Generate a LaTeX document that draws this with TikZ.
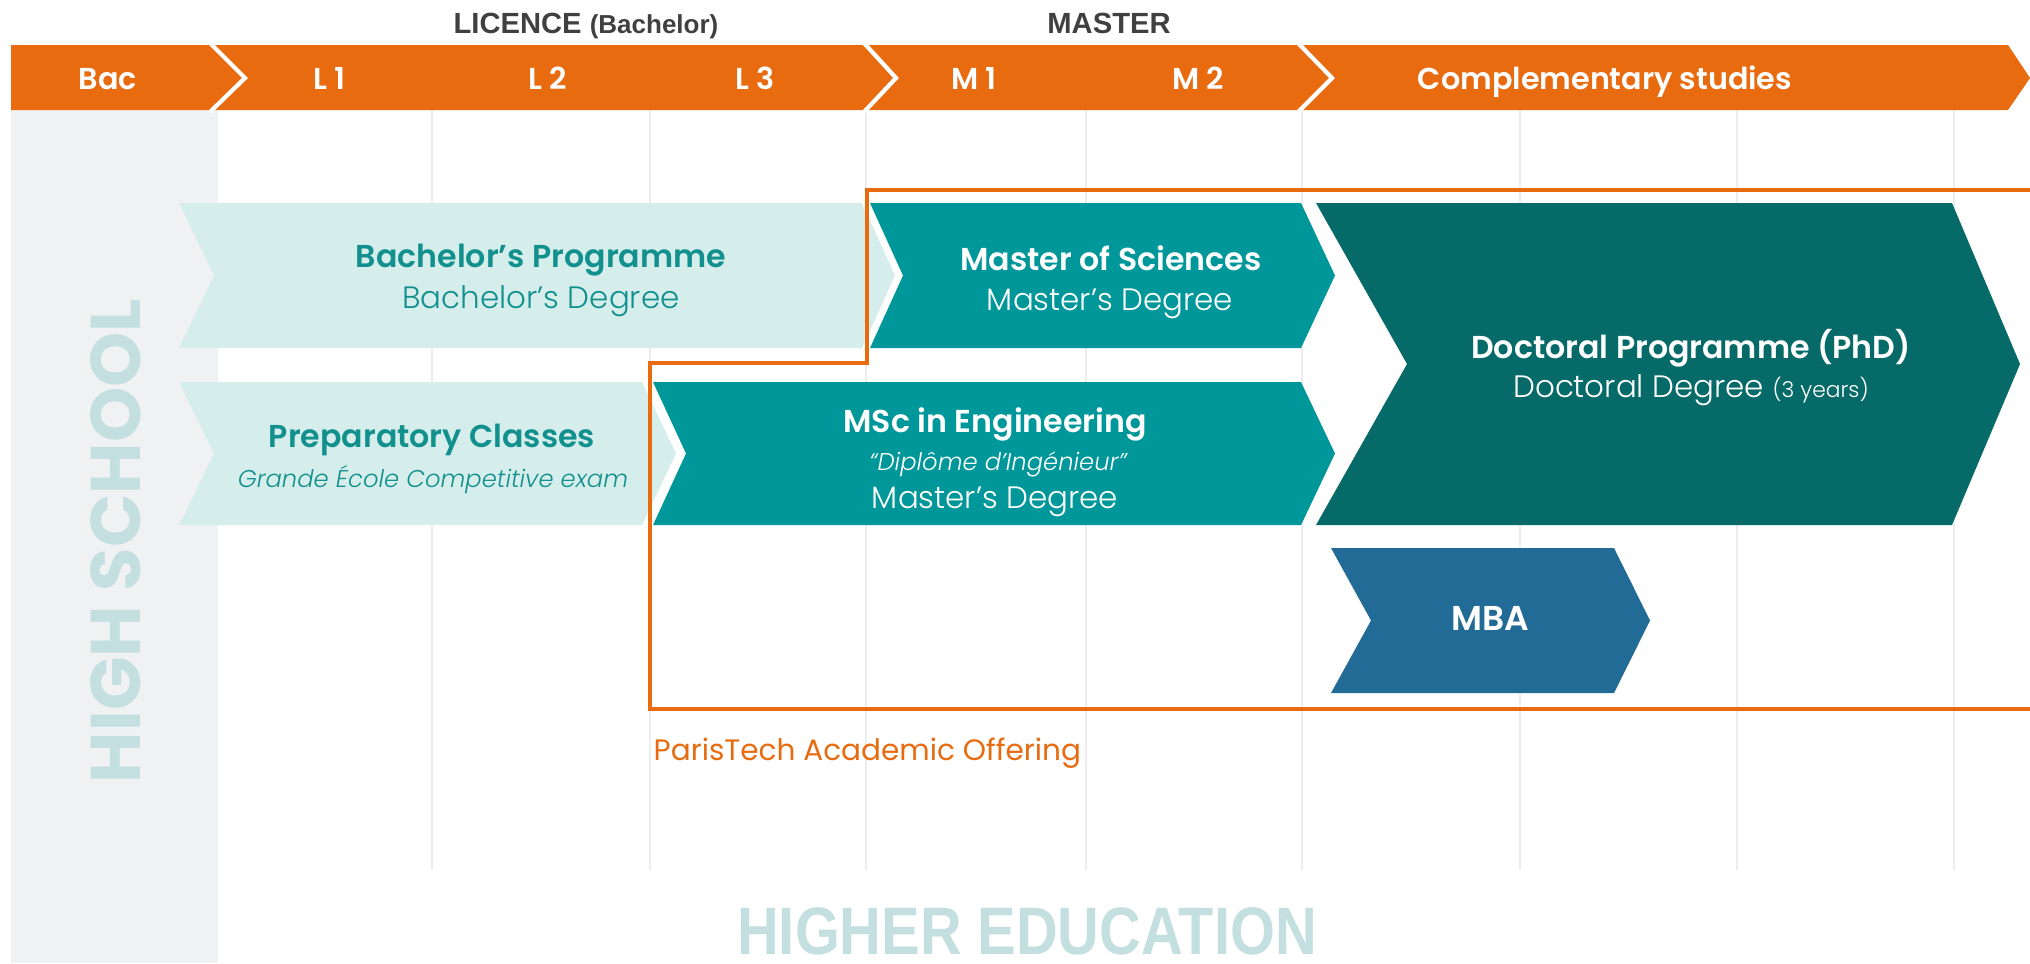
\documentclass[tikz,border=0pt]{standalone}
\usepackage{fontspec}
\setmainfont{Poppins}
\newfontfamily\semifont{Poppins SemiBold}
\newfontfamily\lightfont{Poppins Light}[ItalicFont={Poppins Light Italic}]
\newfontfamily\grotesk{Liberation Sans}
\newfontfamily\narrowgrotesk{Liberation Sans}[FakeStretch=0.86]
\usetikzlibrary{positioning}

\definecolor{ptorange}{HTML}{E96B10}
\definecolor{ptlight}{HTML}{D5EEEC}
\definecolor{ptlighttext}{HTML}{12908E}
\definecolor{ptteal}{HTML}{00979A}
\definecolor{ptdark}{HTML}{066A68}
\definecolor{ptblue}{HTML}{226B97}
\definecolor{ptgreycol}{HTML}{EFF1F3}
\definecolor{ptgrid}{HTML}{ECECEC}
\definecolor{ptpale}{HTML}{C3DFE0}
\definecolor{pttop}{HTML}{404040}

\begin{document}
\begin{tikzpicture}[
    % Stili per le frecce
    lightstep/.style={fill=ptlight},
    tealstep/.style={fill=ptteal},
    darkstep/.style={fill=ptdark},
    mbastep/.style={fill=ptblue},
    bandsep/.style={draw=white, line width=1.2pt},
    gridline/.style={draw=ptgrid, line width=0.4pt},
    offering/.style={draw=ptorange, line width=0.9pt},
    % Stili per il testo
    bandtext/.style={anchor=base, inner sep=0pt, text=white, font=\semifont\fontsize{8.6}{10}\selectfont},
    toptext/.style={anchor=base, inner sep=0pt, text=pttop, font=\grotesk\bfseries\fontsize{8.3}{10}\selectfont},
    titletext/.style={anchor=base, inner sep=0pt, font=\semifont\fontsize{9}{11}\selectfont},
    degreetext/.style={anchor=base, inner sep=0pt, font=\lightfont\fontsize{8.8}{11}\selectfont},
    notetext/.style={anchor=base, inner sep=0pt, font=\lightfont\itshape\fontsize{6.9}{8}\selectfont},
    bigtext/.style={inner sep=0pt, text=ptpale}
]
\useasboundingbox[fill=white] (0,0) rectangle (20.30,-9.63);

% === COLONNA HIGH SCHOOL ===
\fill[ptgreycol] (0.11,-1.10) rectangle (2.18,-9.63);
\node[bigtext, anchor=base, rotate=90, font=\bfseries\fontsize{20}{24}\selectfont] (highschool) at (1.40,-5.41) {HIGH SCHOOL};

% === GRIGLIA ===
\foreach \x in {4.32,6.50,8.66,10.86,13.02,15.20,17.37,19.54}
    \draw[gridline] (\x,-1.10) -- (\x,-8.70);

% === BANDA ARANCIONE ===
\fill[ptorange] (0.11,-0.45) -- (20.08,-0.45) -- (20.30,-0.78) -- (20.08,-1.10) -- (0.11,-1.10) -- cycle;
\draw[bandsep] (2.10,-0.43) -- (2.45,-0.78) -- (2.10,-1.12);
\draw[bandsep] (8.64,-0.43) -- (8.96,-0.78) -- (8.64,-1.12);
\draw[bandsep] (12.98,-0.43) -- (13.32,-0.78) -- (12.98,-1.12);

\node[bandtext] (bac) at (1.08,-0.89) {Bac};
\node[bandtext] (l1) at (3.29,-0.89) {L 1};
\node[bandtext] (l2) at (5.48,-0.89) {L 2};
\node[bandtext] (l3) at (7.55,-0.89) {L 3};
\node[bandtext] (m1) at (9.74,-0.89) {M 1};
\node[bandtext] (m2) at (11.98,-0.89) {M 2};
\node[bandtext] (compl) at (16.05,-0.89) {Complementary studies};

\node[toptext] (licence) at (5.86,-0.33) {LICENCE {\fontsize{7.4}{9}\selectfont(Bachelor)}};
\node[toptext] (master) at (11.09,-0.33) {MASTER};

% === PERCORSI ===
% Bachelor
\fill[lightstep] (1.79,-2.03) -- (8.62,-2.03) -- (8.95,-2.755) -- (8.62,-3.48) -- (1.79,-3.48) -- (2.14,-2.755) -- cycle;
\node[titletext, text=ptlighttext] (bachtitle) at (5.41,-2.67) {Bachelor’s Programme};
\node[degreetext, text=ptlighttext] (bachdeg) at (5.41,-3.08) {Bachelor’s Degree};

% Preparatory classes
\fill[lightstep] (1.79,-3.82) -- (6.42,-3.82) -- (6.76,-4.535) -- (6.42,-5.25) -- (1.79,-5.25) -- (2.14,-4.535) -- cycle;
\node[titletext, text=ptlighttext] (preptitle) at (4.32,-4.47) {Preparatory Classes};
\node[notetext, text=ptlighttext] (prepnote) at (4.33,-4.87) {Grande École Competitive exam};

% Master of Sciences
\fill[tealstep] (8.70,-2.03) -- (13.01,-2.03) -- (13.35,-2.755) -- (13.01,-3.48) -- (8.70,-3.48) -- (9.03,-2.755) -- cycle;
\node[titletext, text=white] (msctitle) at (11.11,-2.70) {Master of Sciences};
\node[degreetext, text=white] (mscdeg) at (11.10,-3.10) {Master’s Degree};

% MSc in Engineering
\fill[tealstep] (6.53,-3.82) -- (13.01,-3.82) -- (13.35,-4.535) -- (13.01,-5.25) -- (6.53,-5.25) -- (6.86,-4.535) -- cycle;
\node[titletext, text=white] (engtitle) at (9.95,-4.32) {MSc in Engineering};
\node[notetext, text=white] (engnote) at (9.98,-4.70) {“Diplôme d’Ingénieur”};
\node[degreetext, text=white] (engdeg) at (9.95,-5.08) {Master’s Degree};

% Doctoral programme
\fill[darkstep] (13.16,-2.03) -- (19.52,-2.03) -- (20.20,-3.64) -- (19.52,-5.25) -- (13.16,-5.25) -- (14.07,-3.64) -- cycle;
\node[titletext, text=white] (phdtitle) at (16.91,-3.58) {Doctoral Programme (PhD)};
\node[degreetext, text=white] (phddeg) at (16.91,-3.97) {Doctoral Degree {\fontsize{6.2}{8}\selectfont(3 years)}};

% MBA
\fill[mbastep] (13.31,-5.48) -- (16.14,-5.48) -- (16.50,-6.205) -- (16.14,-6.93) -- (13.31,-6.93) -- (13.71,-6.205) -- cycle;
\node[titletext, text=white, font=\semifont\fontsize{9.8}{12}\selectfont] (mba) at (14.90,-6.30) {MBA};

% === OFFERTA PARISTECH ===
\draw[offering] (20.40,-1.90) -- (8.67,-1.90) -- (8.67,-3.63) -- (6.50,-3.63) -- (6.50,-7.09) -- (20.40,-7.09);
\node[anchor=base west, inner sep=0pt, text=ptorange, font=\fontsize{8.4}{10}\selectfont] (offer) at (6.53,-7.60) {ParisTech Academic Offering};

% === HIGHER EDUCATION ===
\node[bigtext, anchor=base, font=\narrowgrotesk\bfseries\fontsize{19.1}{22}\selectfont] (highered) at (10.27,-9.54) {HIGHER EDUCATION};

\end{tikzpicture}
\end{document}
